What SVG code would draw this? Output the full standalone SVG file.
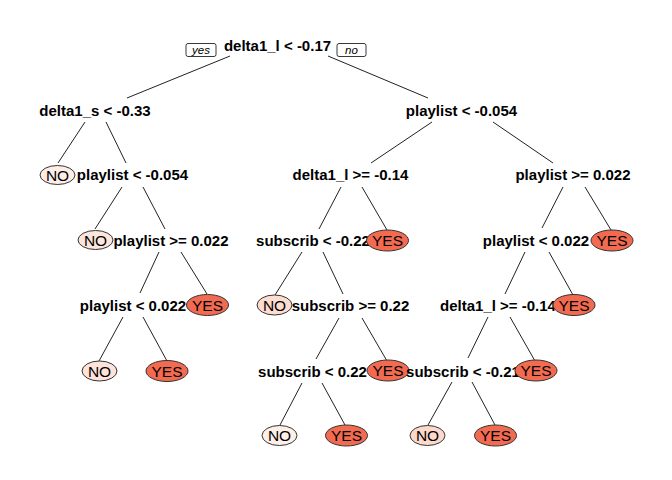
<svg xmlns="http://www.w3.org/2000/svg" width="672" height="480" viewBox="0 0 672 480">
<style>
.edge{stroke:#222;stroke-width:1;fill:none}
.split{font-family:"Liberation Sans",Arial,sans-serif;font-weight:bold;font-size:15px;fill:#000;text-anchor:middle}
.leaf{font-family:"Liberation Sans",Arial,sans-serif;font-size:15.5px;fill:#000;text-anchor:middle}
.yn{font-family:"Liberation Sans",Arial,sans-serif;font-style:italic;font-size:11.5px;fill:#000;text-anchor:middle}
.ynbox{fill:#fff;stroke:#222;stroke-width:0.9}
.yes{fill:#F26B50;stroke:#333;stroke-width:1}
.no{stroke:#333;stroke-width:1}
</style>
<rect width="672" height="480" fill="#fff"/>
<g id="connectors">
<line class="edge" x1="230" y1="56" x2="127" y2="98"/>
<line class="edge" x1="328" y1="56" x2="428" y2="98"/>
<line class="edge" x1="85" y1="122" x2="58" y2="163"/>
<line class="edge" x1="106" y1="122" x2="126" y2="163"/>
<line class="edge" x1="432" y1="122" x2="371" y2="163"/>
<line class="edge" x1="493" y1="122" x2="553" y2="163"/>
<line class="edge" x1="122" y1="187" x2="95" y2="229"/>
<line class="edge" x1="143" y1="187" x2="165" y2="229"/>
<line class="edge" x1="341" y1="187" x2="319" y2="229"/>
<line class="edge" x1="362" y1="187" x2="387" y2="230"/>
<line class="edge" x1="563" y1="187" x2="542" y2="228"/>
<line class="edge" x1="585" y1="187" x2="611" y2="230"/>
<line class="edge" x1="159" y1="252" x2="140" y2="293"/>
<line class="edge" x1="181" y1="252" x2="207" y2="294"/>
<line class="edge" x1="302" y1="252" x2="275" y2="295"/>
<line class="edge" x1="323" y1="252" x2="343" y2="294"/>
<line class="edge" x1="525" y1="252" x2="505" y2="294"/>
<line class="edge" x1="549" y1="252" x2="573" y2="295"/>
<line class="edge" x1="123" y1="317" x2="99" y2="361"/>
<line class="edge" x1="143" y1="317" x2="167" y2="361"/>
<line class="edge" x1="339" y1="318" x2="316" y2="359"/>
<line class="edge" x1="362" y1="318" x2="387" y2="361"/>
<line class="edge" x1="488" y1="317" x2="468" y2="358"/>
<line class="edge" x1="510" y1="317" x2="535" y2="361"/>
<line class="edge" x1="302" y1="383" x2="280" y2="425"/>
<line class="edge" x1="322" y1="383" x2="345" y2="425"/>
<line class="edge" x1="452" y1="382" x2="428" y2="425"/>
<line class="edge" x1="472" y1="382" x2="495" y2="425"/>
</g>
<g id="n1"><text class="split" x="277.5" y="50.5">delta1_l &lt; -0.17</text>
<rect class="ynbox" x="186" y="43.5" width="30" height="13" rx="2"/><text class="yn" x="201" y="54">yes</text>
<rect class="ynbox" x="337" y="43.5" width="29" height="13" rx="2"/><text class="yn" x="351.5" y="54">no</text></g>
<g id="n2"><text class="split" x="95" y="115.5">delta1_s &lt; -0.33</text></g>
<g id="n3"><text class="split" x="461.5" y="115.5">playlist &lt; -0.054</text></g>
<g id="n4"><ellipse class="no" cx="57.5" cy="175" rx="17.5" ry="9.5" fill="#FDEEE8"/><text class="leaf" x="57.5" y="180.5">NO</text></g>
<g id="n5"><text class="split" x="132.5" y="179.5">playlist &lt; -0.054</text></g>
<g id="n6"><text class="split" x="350.5" y="179.5">delta1_l &gt;= -0.14</text></g>
<g id="n7"><text class="split" x="573" y="179.5">playlist &gt;= 0.022</text></g>
<g id="n8"><ellipse class="no" cx="95.5" cy="240" rx="17.5" ry="9.5" fill="#FDE6DD"/><text class="leaf" x="95.5" y="245.5">NO</text></g>
<g id="n9"><text class="split" x="171" y="245.5">playlist &gt;= 0.022</text></g>
<g id="n10"><text class="split" x="313" y="245.5">subscrib &lt; -0.22</text></g>
<g id="n11"><ellipse class="yes" cx="387.5" cy="240.5" rx="21" ry="10.5"/><text class="leaf" x="387.5" y="246">YES</text></g>
<g id="n12"><text class="split" x="536" y="245.5">playlist &lt; 0.022</text></g>
<g id="n13"><ellipse class="yes" cx="612" cy="240.5" rx="21" ry="10.5"/><text class="leaf" x="612" y="246">YES</text></g>
<g id="n14"><text class="split" x="133" y="310.5">playlist &lt; 0.022</text></g>
<g id="n15"><ellipse class="yes" cx="207.5" cy="305" rx="21" ry="10.5"/><text class="leaf" x="207.5" y="310.5">YES</text></g>
<g id="n16"><ellipse class="no" cx="274.5" cy="305" rx="17.5" ry="10" fill="#FCDDD0"/><text class="leaf" x="274.5" y="310.5">NO</text></g>
<g id="n17"><text class="split" x="350.5" y="310.5">subscrib &gt;= 0.22</text></g>
<g id="n18"><text class="split" x="498" y="310.5">delta1_l &gt;= -0.14</text></g>
<g id="n19"><ellipse class="yes" cx="574" cy="305" rx="21" ry="10.5"/><text class="leaf" x="574" y="310.5">YES</text></g>
<g id="n20"><ellipse class="no" cx="99.5" cy="371" rx="17.5" ry="10" fill="#FDE3D8"/><text class="leaf" x="99.5" y="376.5">NO</text></g>
<g id="n21"><ellipse class="yes" cx="167" cy="371" rx="21" ry="10.5"/><text class="leaf" x="167" y="376.5">YES</text></g>
<g id="n22"><text class="split" x="312.5" y="376.5">subscrib &lt; 0.22</text></g>
<g id="n23"><ellipse class="yes" cx="388" cy="370.5" rx="21" ry="10.5"/><text class="leaf" x="388" y="376">YES</text></g>
<g id="n24"><text class="split" x="463" y="376.5">subscrib &lt; -0.21</text></g>
<g id="n25"><ellipse class="yes" cx="536" cy="370.5" rx="21" ry="10.5"/><text class="leaf" x="536" y="376">YES</text></g>
<g id="n26"><ellipse class="no" cx="279.5" cy="435.5" rx="17.5" ry="10" fill="#FEF0E9"/><text class="leaf" x="279.5" y="441">NO</text></g>
<g id="n27"><ellipse class="yes" cx="346.5" cy="435.5" rx="21" ry="10.5"/><text class="leaf" x="346.5" y="441">YES</text></g>
<g id="n28"><ellipse class="no" cx="427.5" cy="435.5" rx="17.5" ry="10" fill="#FCD9CA"/><text class="leaf" x="427.5" y="441">NO</text></g>
<g id="n29"><ellipse class="yes" cx="495.5" cy="435.5" rx="21" ry="10.5"/><text class="leaf" x="495.5" y="441">YES</text></g>
</svg>
